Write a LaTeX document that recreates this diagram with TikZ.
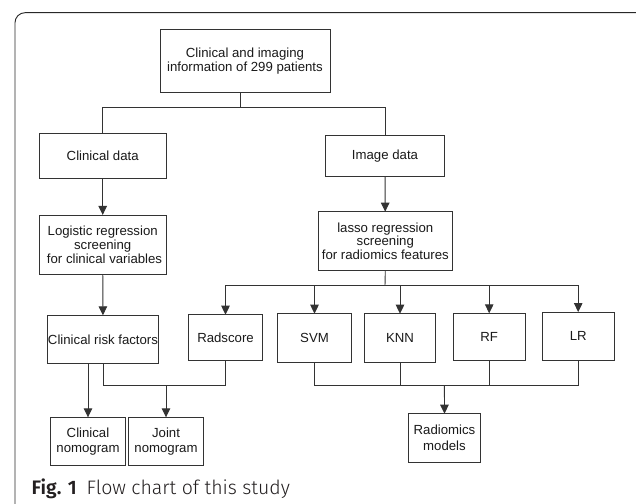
\documentclass[tikz,border=0pt]{standalone}
\usepackage{fontspec}
\setsansfont{Liberation Sans}
\newfontfamily\capfont[UprightFont=* Light,BoldFont=* SemiBold]{Fira Sans}
\usetikzlibrary{arrows.meta}
\begin{document}
\begin{tikzpicture}[x=1pt,y=-1pt,
  box/.style={draw={rgb,255:red,51;green,51;blue,51},line width=0.9pt,inner sep=0pt,outer sep=0pt,align=center,text={rgb,255:red,26;green,26;blue,26},font=\sffamily\fontsize{13.2}{14.4}\selectfont},
  link/.style={draw={rgb,255:red,51;green,51;blue,51},line width=0.9pt},
  arrow/.style={link,-{Triangle[length=9pt,width=8.5pt]}}]
\path[use as bounding box] (0,0) rectangle (636,503);
\clip (0,0) rectangle (636,503);
\path[fill=white,draw=none] (0,0) rectangle (636,503);
\draw[draw={rgb,255:red,40;green,40;blue,40},line width=0.9pt,rounded corners=10pt] (15,12.7) rectangle (646,530);
\node[box,minimum width=170pt,minimum height=63.4pt,font=\sffamily\fontsize{13.2}{13.3}\selectfont] (patients) at (245,61) {Clinical and imaging\\information of 299 patients};
\node[box,minimum width=126.7pt,minimum height=45pt] (clinical) at (102.7,155.5) {Clinical data};
\node[box,minimum width=118.6pt,minimum height=40.3pt] (image) at (385,155.9) {Image data};
\node[box,minimum width=126.7pt,minimum height=59.7pt] (logistic) at (102.7,244.8) {Logistic regression\\screening\\\ for clinical variables};
\node[box,minimum width=134pt,minimum height=58.6pt,font=\sffamily\fontsize{13.2}{13.3}\selectfont] (lasso) at (385.3,241) {lasso regression\\screening\\for radiomics features};
\node[box,minimum width=111.4pt,minimum height=48.4pt] (risk) at (103,339.5) {Clinical risk factors};
\node[box,minimum width=74.4pt,minimum height=45.6pt] (radscore) at (225.5,337.5) {Radscore};
\node[box,minimum width=74.4pt,minimum height=48.3pt] (svm) at (314.5,337.85) {SVM};
\node[box,minimum width=71.4pt,minimum height=48.3pt] (knn) at (400,337.85) {KNN};
\node[box,minimum width=71.7pt,minimum height=47pt] (rf) at (489.2,336.8) {RF};
\node[box,minimum width=72.3pt,minimum height=48.3pt] (lr) at (578.2,336.2) {LR};
\node[box,minimum width=74.6pt,minimum height=48.4pt,font=\sffamily\fontsize{13.2}{15.2}\selectfont] (clinnomo) at (88,441.5) {Clinical\\nomogram};
\node[box,minimum width=74.6pt,minimum height=48.4pt,font=\sffamily\fontsize{13.2}{15.2}\selectfont] (jointnomo) at (166,441.5) {Joint\\nomogram};
\node[box,minimum width=72.4pt,minimum height=48.3pt,font=\sffamily\fontsize{13.2}{15.6}\selectfont] (radmodels) at (444.5,437.85) {Radiomics\\models};
\node[inner sep=0pt,outer sep=0pt,anchor=base west,text={rgb,255:red,35;green,31;blue,32},font=\capfont\fontsize{19.5}{23}\selectfont] (caption) at (31.7,494) {\textbf{Fig. 1}\hspace{10pt}Flow chart of this study};
\coordinate (split) at (240,107.7);
\coordinate (modelbus) at (385,285.7);
\coordinate (jointbus) at (166,385.7);
\coordinate (radbus) at (444.4,385.7);
\draw[link] (patients.south -| split) -- (split);
\draw[link] (split) -| (clinical.north);
\draw[link] (split) -| (image.north);
\draw[arrow] (clinical) -- (logistic);
\draw[arrow] (image) -- (lasso);
\draw[arrow] (logistic) -- (risk);
\draw[link] (lasso.south) -- (modelbus);
\draw[arrow] (modelbus) -| (radscore.north);
\draw[arrow] (modelbus) -| (svm.north);
\draw[arrow] (modelbus) -| (knn.north);
\draw[arrow] (modelbus) -| (rf.north);
\draw[arrow] (modelbus) -| (lr.north);
\draw[arrow] (clinnomo.north |- risk.south) -- (clinnomo.north);
\draw[link] (risk.south) |- (jointbus);
\draw[link] (radscore.south) |- (jointbus);
\draw[arrow] (jointbus) -- (jointnomo.north);
\draw[link] (svm.south) |- (radbus);
\draw[link] (knn.south) |- (radbus);
\draw[link] (rf.south) |- (radbus);
\draw[link] (lr.south) |- (radbus);
\draw[arrow] (radbus) -- (radmodels.north);
\end{tikzpicture}
\end{document}
